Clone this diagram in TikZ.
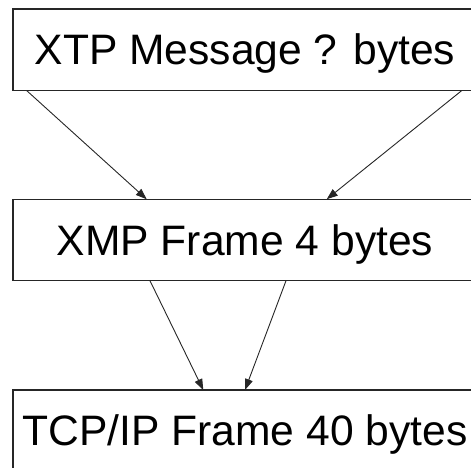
\documentclass[tikz,border=0pt]{standalone}
\usepackage{fontspec}
\setmainfont{Liberation Sans}
\usetikzlibrary{arrows.meta}
\begin{document}
\begin{tikzpicture}[x=1pt,y=-1pt,
  layer/.style={draw=black!85, line width=1.2pt, fill=white,
    minimum width=464pt, minimum height=81.5pt,
    inner sep=0pt, outer sep=0pt, text height=36pt, text depth=6pt,
    font=\fontsize{42.6}{48}\selectfont},
  link/.style={draw=black!85, line width=0.9pt,
    -{Triangle[length=11pt,width=8pt]}}]
\useasboundingbox (0,0) rectangle (471,468);
\clip (0,0) rectangle (471,468);
% protocol layers, outermost at the top
\node[layer] (xtp) at (245,49.85) {XTP Message ? bytes};
\node[layer] (xmp) at (245,240)   {XMP Frame 4 bytes};
\node[layer] (tcp) at (245,430.75) {TCP/IP Frame 40 bytes};
% encapsulation arrows
\draw[link] ([xshift=13.7pt]xtp.south west) -- ([xshift=133.7pt]xmp.north west);
\draw[link] ([xshift=448.7pt]xtp.south west) -- ([xshift=313.7pt]xmp.north west);
\draw[link] ([xshift=137pt]xmp.south west) -- ([xshift=190.3pt]tcp.north west);
\draw[link] ([xshift=273pt]xmp.south west) -- ([xshift=232pt]tcp.north west);
\end{tikzpicture}
\end{document}
